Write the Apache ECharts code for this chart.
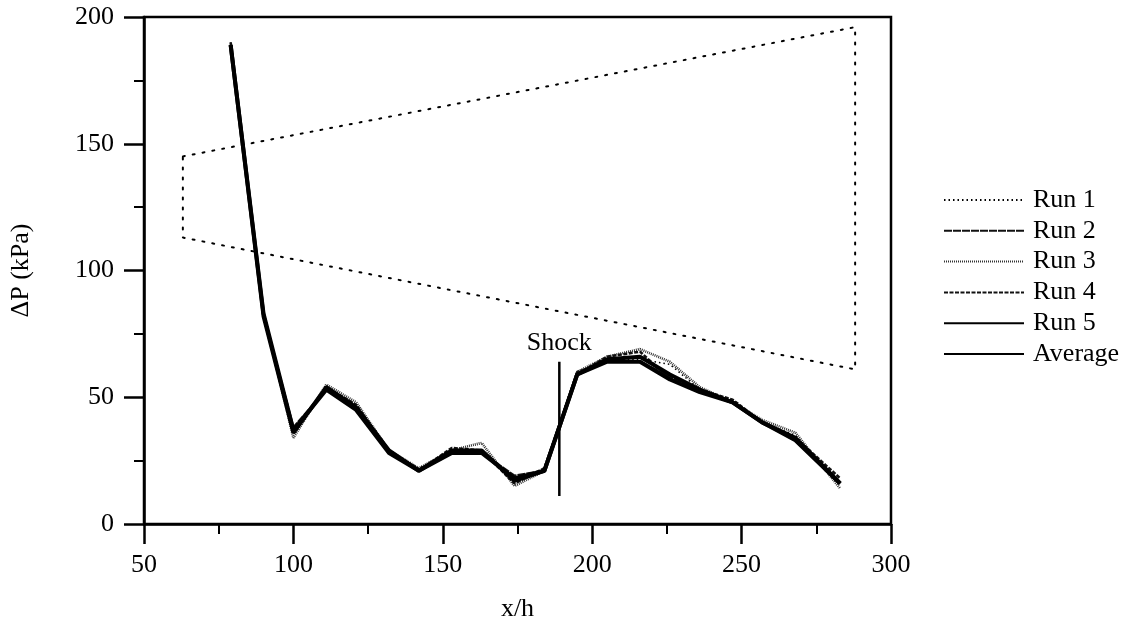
<!DOCTYPE html>
<html>
<head>
<meta charset="utf-8">
<script src="https://cdn.jsdelivr.net/npm/echarts@6/dist/echarts.min.js"></script>
<style>html,body{margin:0;padding:0;background:#fff;}#c{width:1140px;height:636px;}</style>
</head>
<body>
<div id="c"></div>
<script>
const xValues = [79, 90, 100, 111, 121, 132, 142, 153, 163, 174, 184, 195, 205, 216, 226, 236, 247, 257, 268, 283];
const run1 = [190, 83, 36, 54, 47, 29, 22, 29, 29, 17, 21, 59, 65, 65, 63, 53, 48, 40, 35, 15];
const run2 = [189, 82, 38, 53, 46, 28, 21, 28, 28, 19, 21, 60, 64, 64, 58, 53, 48, 40, 33, 16];
const run3 = [189, 83, 34, 55, 48, 29, 22, 29, 32, 15, 21, 60, 66, 69, 64, 54, 48, 41, 36, 14];
const run4 = [190, 82, 36, 54, 47, 29, 21, 30, 29, 16, 22, 59, 66, 68, 57, 53, 49, 40, 34, 18];
const run5 = [189, 83, 37, 53, 45, 28, 21, 28, 28, 18, 21, 59, 64, 64, 57, 52, 48, 40, 33, 16];
const average = [189, 82, 36, 54, 46, 29, 21, 29, 29, 17, 21, 59, 65, 66, 59, 53, 48, 40, 34, 16];
const seriesNames = ['Run 1', 'Run 2', 'Run 3', 'Run 4', 'Run 5', 'Average'];
const channelX = [63, 288, 288, 63, 63];
const channelY = [145, 196, 61, 113, 145];
const shockX = [189, 189];
const shockY = [11, 64];
const shockLabel = 'Shock';
const xTicks = [50, 100, 150, 200, 250, 300];
const yTicks = [0, 50, 100, 150, 200];

const FONT = '"Liberation Serif", "DejaVu Serif", serif';
const pair = (xs, ys) => xs.map((x, i) => [x, ys[i]]);
const runs = [run1, run2, run3, run4, run5, average];
const styles = [
  {width: 1.6, type: [1.5, 3], color: '#000'},
  {width: 2.6, type: [8, 1], color: '#111'},
  {width: 2.6, type: [1, 1], color: '#333'},
  {width: 2.6, type: [4, 1.5], color: '#111'},
  {width: 4, type: 'solid', color: '#000'},
  {width: 4, type: 'solid', color: '#000'}
];

const series = runs.map((r, i) => ({
  name: seriesNames[i], type: 'line', symbol: 'none', showSymbol: false,
  data: pair(xValues, r), lineStyle: styles[i], itemStyle: {color: '#000'},
  z: 3 + i
}));
series.push({
  name: 'channel', type: 'line', symbol: 'none', data: pair(channelX, channelY),
  lineStyle: {width: 2, type: [2, 8], color: '#000', cap: 'round'}, silent: true, z: 2
});
series.push({
  name: 'shock', type: 'line', symbol: 'none', data: pair(shockX, shockY),
  lineStyle: {width: 2.5, color: '#000'}, silent: true, z: 10,
  markPoint: {
    symbol: 'circle', symbolSize: 0,
    data: [{coord: [shockX[1], shockY[1]], value: shockLabel}],
    label: {show: true, position: 'top', distance: 6, formatter: shockLabel,
      color: '#000', fontFamily: FONT, fontSize: 26}
  }
});

const chart = echarts.init(document.getElementById('c'), null, {renderer: 'canvas'});
chart.setOption({
  backgroundColor: '#fff',
  animation: false,
  grid: {left: 143, right: 249, top: 17, bottom: 112, show: true, borderColor: '#000', borderWidth: 2.5},
  legend: {
    data: seriesNames, orient: 'vertical', left: 938, top: 181,
    itemWidth: 80, itemHeight: 14, itemGap: 2.8,
    itemStyle: {color: 'rgba(0,0,0,0)', borderWidth: 0, opacity: 0},
    textStyle: {fontFamily: FONT, fontSize: 26, color: '#000', lineHeight: 28, padding: [0, 0, 0, 4]},
    selectedMode: false
  },
  xAxis: {
    type: 'value', min: xTicks[0], max: xTicks[xTicks.length - 1], interval: 50,
    name: 'x/h', nameLocation: 'middle', nameGap: 72,
    nameTextStyle: {fontFamily: FONT, fontSize: 26, color: '#000'},
    axisLine: {show: true, onZero: false, lineStyle: {color: '#000', width: 2.5}},
    axisTick: {show: true, inside: false, length: 20, lineStyle: {color: '#000', width: 2.5}},
    minorTick: {show: true, splitNumber: 2, length: 10, lineStyle: {color: '#000', width: 2}},
    splitLine: {show: false},
    axisLabel: {margin: 28, fontFamily: FONT, fontSize: 26, color: '#000'}
  },
  yAxis: {
    type: 'value', min: yTicks[0], max: yTicks[yTicks.length - 1], interval: 50,
    name: 'ΔP (kPa)', nameLocation: 'middle', nameGap: 110, nameRotate: 90,
    nameTextStyle: {fontFamily: FONT, fontSize: 26, color: '#000'},
    axisLine: {show: true, onZero: false, lineStyle: {color: '#000', width: 2.5}},
    axisTick: {show: true, inside: false, length: 20, lineStyle: {color: '#000', width: 2.5}},
    minorTick: {show: true, splitNumber: 2, length: 10, lineStyle: {color: '#000', width: 2}},
    splitLine: {show: false},
    axisLabel: {margin: 30, fontFamily: FONT, fontSize: 26, color: '#000'}
  },
  series: series
});
</script>
</body>
</html>
